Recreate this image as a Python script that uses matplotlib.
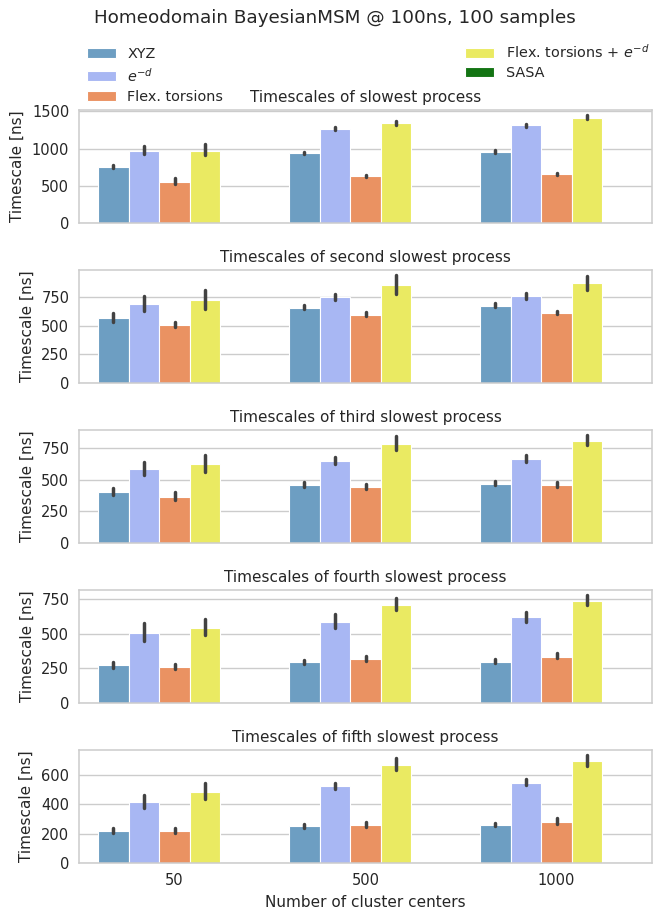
import matplotlib
matplotlib.use("Agg")
import matplotlib.pyplot as plt
from matplotlib.patches import Patch

centers = ["50", "500", "1000"]
methods = ["XYZ", "$e^{-d}$", "Flex. torsions", "Flex. torsions + $e^{-d}$", "SASA"]
colors = ["#6d9ec2", "#a8b7f3", "#ea9262", "#eaea62", "#137413"]
titles = ["Timescales of slowest process",
          "Timescales of second slowest process",
          "Timescales of third slowest process",
          "Timescales of fourth slowest process",
          "Timescales of fifth slowest process"]
yticks = [[0, 500, 1000, 1500], [0, 250, 500, 750], [0, 250, 500, 750],
          [0, 250, 500, 750], [0, 200, 400, 600]]

# rows: XYZ, e^-d, Flex. torsions, Flex. torsions + e^-d  (SASA has no data)
slowest_mean = [[755, 935, 960], [970, 1265, 1310], [550, 630, 655], [965, 1340, 1410]]
slowest_lo = [[735, 920, 945], [930, 1245, 1290], [520, 615, 640], [910, 1310, 1390]]
slowest_hi = [[780, 955, 980], [1040, 1290, 1335], [600, 650, 675], [1065, 1375, 1445]]

second_mean = [[570, 660, 678], [692, 750, 764], [507, 599, 614], [727, 857, 875]]
second_lo = [[539, 646, 669], [634, 730, 741], [489, 585, 602], [646, 779, 820]]
second_hi = [[614, 683, 700], [764, 785, 793], [539, 620, 631], [817, 944, 941]]

third_mean = [[401, 456, 469], [582, 648, 666], [362, 443, 459], [622, 787, 810]]
third_lo = [[378, 446, 459], [535, 627, 645], [338, 430, 446], [561, 737, 774]]
third_hi = [[435, 480, 490], [645, 682, 700], [401, 469, 483], [698, 850, 852]]

fourth_mean = [[273, 295, 300], [508, 589, 621], [259, 319, 335], [546, 712, 740]]
fourth_lo = [[256, 285, 290], [448, 546, 587], [244, 307, 324], [494, 673, 707]]
fourth_hi = [[297, 312, 316], [578, 645, 661], [280, 340, 359], [611, 757, 779]]

fifth_mean = [[217, 251, 258], [414, 525, 548], [217, 258, 283], [487, 670, 693]]
fifth_lo = [[204, 242, 249], [376, 507, 530], [204, 247, 265], [439, 632, 659]]
fifth_hi = [[238, 267, 274], [462, 548, 571], [238, 279, 308], [546, 718, 734]]

panels = [(slowest_mean, slowest_lo, slowest_hi),
          (second_mean, second_lo, second_hi),
          (third_mean, third_lo, third_hi),
          (fourth_mean, fourth_lo, fourth_hi),
          (fifth_mean, fifth_lo, fifth_hi)]

plt.rcParams['font.family'] = ['DejaVu Sans']
plt.rcParams['text.color'] = '.15'
plt.rcParams['axes.labelcolor'] = '.15'
plt.rcParams['xtick.color'] = '.15'
plt.rcParams['ytick.color'] = '.15'

W, H = 653, 910
fig = plt.figure(figsize=(W / 100, H / 100), dpi=100)


def draw_panel(ax, mean, lo, hi):
    nh = len(methods)
    bw = 0.8 / nh
    for i in range(len(mean)):
        for g in range(len(centers)):
            x = g - 0.4 + bw * (i + 0.5)
            ax.bar(x, mean[i][g], width=bw, color=colors[i], edgecolor='white',
                   linewidth=0.8, zorder=2)
            ax.plot([x, x], [lo[i][g], hi[i][g]], color='.26', lw=2.5,
                    solid_capstyle='round', zorder=3)
    ax.set_xlim(-0.5, len(centers) - 0.5)
    ax.set_xticks(range(len(centers)))
    ax.set_axisbelow(True)
    ax.grid(axis='y', color='.8', lw=1.0)
    for s in ax.spines.values():
        s.set_color('.8')
        s.set_linewidth(1.1)
    ax.tick_params(length=0, labelsize=10.5, pad=7)


axes = []
for k in range(5):
    top = 110 + 160 * k
    ax = fig.add_axes([79 / W, 1 - (top + 113) / H, 573 / W, 113 / H])
    mean, lo, hi = panels[k]
    draw_panel(ax, mean, lo, hi)
    ax.set_yticks(yticks[k])
    ax.set_title(titles[k], fontsize=11, pad=6)
    ax.set_ylabel("Timescale [ns]", fontsize=11, labelpad=5)
    if k < 4:
        ax.set_xticklabels([])
    else:
        ax.set_xticklabels(centers)
        ax.set_xlabel("Number of cluster centers", fontsize=11, labelpad=5)
    axes.append(ax)

fig.align_ylabels(axes)

handles = [Patch(facecolor=c, edgecolor='white', linewidth=0.8) for c in colors]
fig.legend(handles, methods,
           loc='upper left', ncol=2, mode='expand', frameon=False,
           bbox_to_anchor=(81 / W, 0, 574 / W, 1 - 37 / H),
           borderaxespad=0, fontsize=10.4, handlelength=2.0, labelspacing=0.4)

fig.text(335 / W, 1 - 18 / H, "Homeodomain BayesianMSM @ 100ns, 100 samples",
         ha='center', va='center', fontsize=13.2)

fig.savefig("out.png", dpi=100)
